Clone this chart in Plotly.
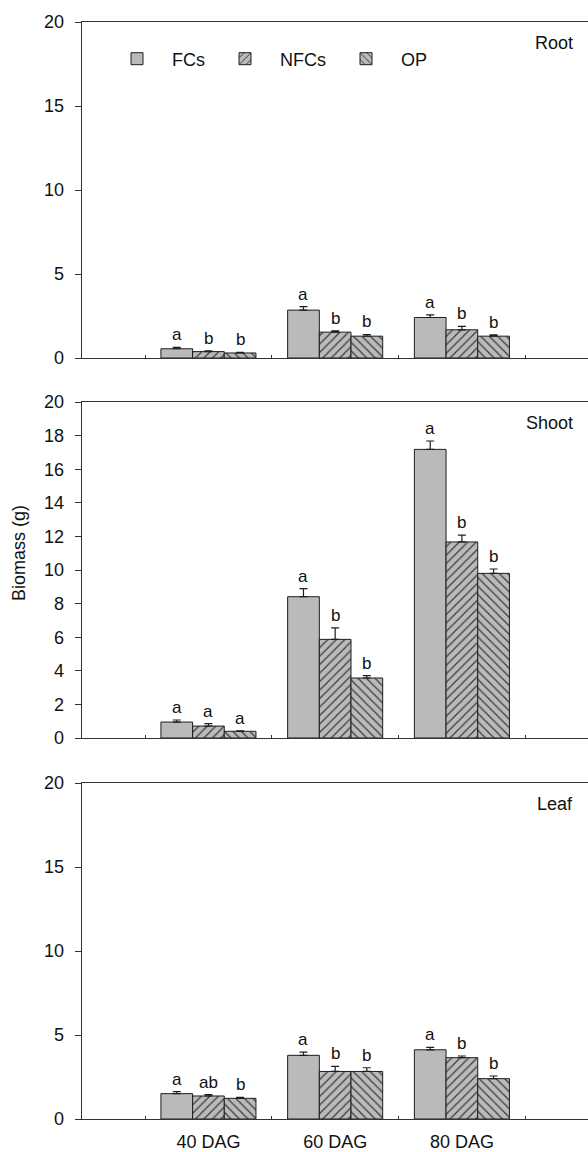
import plotly.graph_objects as go

categories = ["40 DAG", "60 DAG", "80 DAG"]
cat_pos = [1, 2, 3]
series = ["FCs", "NFCs", "OP"]

root_FCs = [0.55, 2.85, 2.41]
root_NFCs = [0.38, 1.54, 1.68]
root_OP = [0.30, 1.30, 1.30]
root_FCs_err = [0.08, 0.21, 0.16]
root_NFCs_err = [0.04, 0.08, 0.20]
root_OP_err = [0.03, 0.10, 0.08]
root_letters = [["a", "b", "b"], ["a", "b", "b"], ["a", "b", "b"]]

shoot_FCs = [0.95, 8.41, 17.18]
shoot_NFCs = [0.71, 5.87, 11.67]
shoot_OP = [0.40, 3.57, 9.80]
shoot_FCs_err = [0.12, 0.48, 0.50]
shoot_NFCs_err = [0.14, 0.68, 0.41]
shoot_OP_err = [0.02, 0.14, 0.26]
shoot_letters = [["a", "a", "a"], ["a", "b", "b"], ["a", "b", "b"]]

leaf_FCs = [1.51, 3.79, 4.12]
leaf_NFCs = [1.37, 2.83, 3.65]
leaf_OP = [1.23, 2.83, 2.40]
leaf_FCs_err = [0.12, 0.19, 0.14]
leaf_NFCs_err = [0.08, 0.30, 0.10]
leaf_OP_err = [0.06, 0.22, 0.16]
leaf_letters = [["a", "ab", "b"], ["a", "b", "b"], ["a", "b", "b"]]

panels = [
    ("Root", [root_FCs, root_NFCs, root_OP], [root_FCs_err, root_NFCs_err, root_OP_err], root_letters, 5),
    ("Shoot", [shoot_FCs, shoot_NFCs, shoot_OP], [shoot_FCs_err, shoot_NFCs_err, shoot_OP_err], shoot_letters, 2),
    ("Leaf", [leaf_FCs, leaf_NFCs, leaf_OP], [leaf_FCs_err, leaf_NFCs_err, leaf_OP_err], leaf_letters, 5),
]

W, H = 588, 1152
FONT = "Liberation Sans, Arial, sans-serif"
FS = 18
LFS = 17
LINE = "#333333"
BAR_BG = "#bababa"
HATCH = "#3a3a3a"
patterns = ["", "/", "\\"]
offsets = [-0.25, 0.0, 0.25]

panel_px = [(22, 358), (402, 738), (783, 1119)]
x_left_px = 81.7

fig = go.Figure()
annotations = []

for p, (name, vals, errs, letters, dt) in enumerate(panels):
    ax = "" if p == 0 else str(p + 1)
    for s in range(3):
        marker = dict(color=BAR_BG, line=dict(color="#1e1e1e", width=1))
        if patterns[s]:
            marker["pattern"] = dict(shape=patterns[s], bgcolor=BAR_BG, fgcolor=HATCH,
                                     size=6, solidity=0.2, fillmode="replace")
        fig.add_trace(go.Bar(
            x=cat_pos, y=vals[s], name=series[s],
            xaxis="x" + ax, yaxis="y" + ax,
            marker=marker,
            showlegend=(p == 0), legendgroup=series[s],
            error_y=dict(type="data", symmetric=False, array=errs[s],
                         arrayminus=[0, 0, 0], color="#1e1e1e",
                         thickness=1.2, width=4),
        ))
        for c in range(3):
            annotations.append(dict(
                x=cat_pos[c] + offsets[s], y=vals[s][c] + errs[s][c],
                xref="x" + ax, yref="y" + ax, text=letters[c][s],
                showarrow=False, yanchor="bottom", xanchor="center",
                yshift=1, font=dict(family=FONT, size=LFS, color="#111"),
            ))
    top, bot = panel_px[p]
    dom = [1 - bot / H, 1 - top / H]
    fig.layout["xaxis" + ax] = dict(
        domain=[x_left_px / W, 1], range=[0, 3.995], anchor="y" + ax,
        showline=True, linecolor=LINE, linewidth=1, mirror=True,
        tickvals=cat_pos, ticktext=categories, ticks="",
        showticklabels=(p == 2), showgrid=False, zeroline=False,
        ticklabelstandoff=6,
        tickfont=dict(family=FONT, size=FS, color="#111"),
        minor=dict(tickvals=[0.5, 1.5, 2.5, 3.5], ticks="inside", ticklen=3,
                   tickcolor=LINE, showgrid=False),
        automargin=False, fixedrange=True,
    )
    fig.layout["yaxis" + ax] = dict(
        domain=dom, range=[0, 20], anchor="x" + ax, dtick=dt, tick0=0,
        showline=True, linecolor=LINE, linewidth=1,
        ticks="outside", ticklen=6, tickcolor=LINE,
        ticklabelstandoff=7,
        showgrid=False, zeroline=False,
        tickfont=dict(family=FONT, size=FS, color="#111"),
        automargin=False, fixedrange=True,
    )
    annotations.append(dict(
        x=575 / W, y=1 - (top + 21) / H, xref="paper", yref="paper",
        text=name, showarrow=False, xanchor="right", yanchor="middle",
        font=dict(family=FONT, size=FS, color="#111"),
    ))

annotations.append(dict(
    x=19 / W, y=1 - 553 / H, xref="paper", yref="paper", text="Biomass (g)",
    textangle=-90, showarrow=False, xanchor="center", yanchor="middle",
    font=dict(family=FONT, size=FS, color="#111"),
))

fig.update_layout(
    width=W, height=H, margin=dict(l=0, r=0, t=0, b=0),
    paper_bgcolor="white", plot_bgcolor="white",
    barmode="group", bargap=0.25, bargroupgap=0,
    annotations=annotations,
    legend=dict(orientation="h", x=102 / W, y=1 - 59 / H, xanchor="left",
                yanchor="middle", font=dict(family=FONT, size=FS, color="#111"),
                bgcolor="rgba(0,0,0,0)", itemwidth=60, traceorder="normal"),
    font=dict(family=FONT, size=FS, color="#111"),
)

fig.write_html("out.html")
